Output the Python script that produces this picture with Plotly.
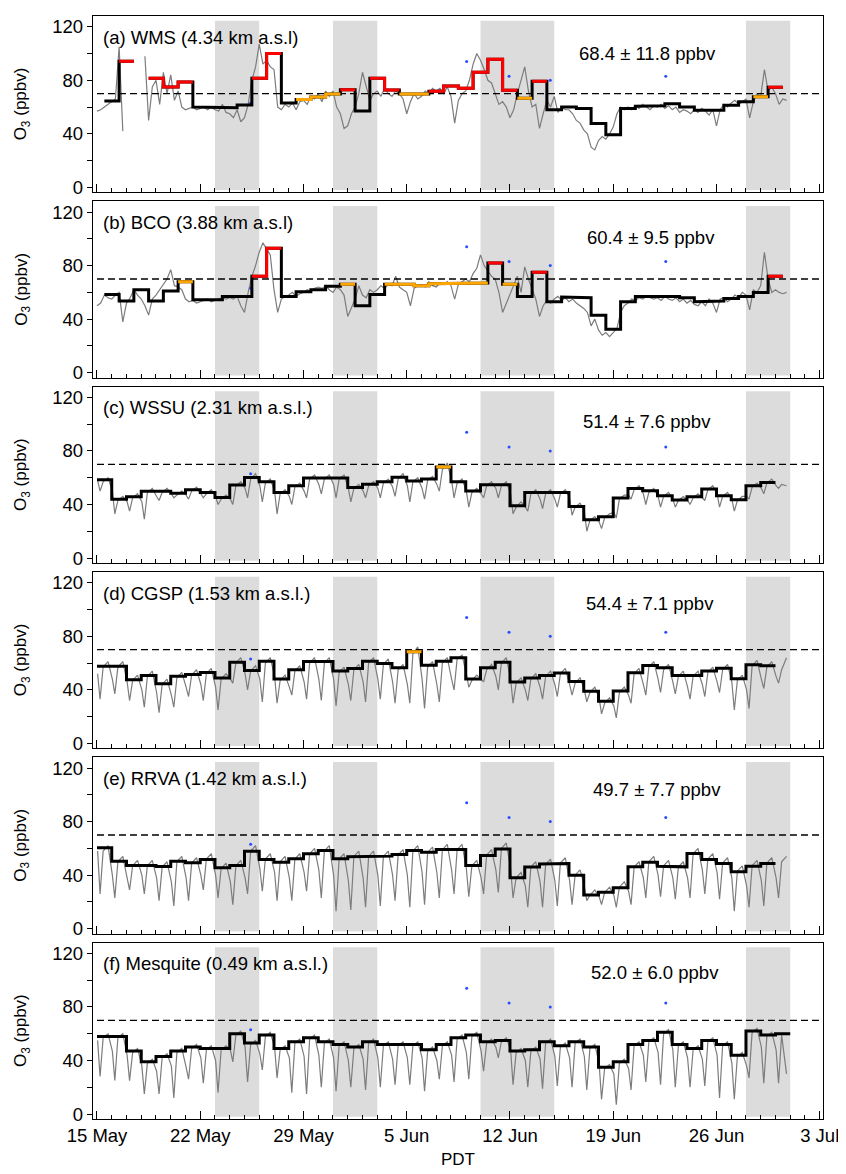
import pandas as pd
import plotly.graph_objects as go
from plotly.subplots import make_subplots

# ------------------------------------------------------------------
# DATA
# ------------------------------------------------------------------
SITES = [
    "(a) WMS (4.34 km a.s.l)",
    "(b) BCO (3.88 km a.s.l)",
    "(c) WSSU (2.31 km a.s.l.)",
    "(d) CGSP (1.53 km a.s.l.)",
    "(e) RRVA (1.42 km a.s.l.)",
    "(f) Mesquite (0.49 km a.s.l.)",
]
STATS = [
    "68.4 ± 11.8 ppbv",
    "60.4 ± 9.5 ppbv",
    "51.4 ± 7.6 ppbv",
    "54.4 ± 7.1 ppbv",
    "49.7 ± 7.7 ppbv",
    "52.0 ± 6.0 ppbv",
]

# O3 samples, four per day from 15 May (one row per day);
# sampling hours of each row (PDT) for each site
O3_START = "2017-05-15"
HOURS_MOUNTAIN = [0, 6, 12, 18]
HOURS_DIURNAL = [1, 5, 10, 18]

o3_wms = [
    57, 58, 60, 62,
    64, 66, 105, 42,
    None, None, None, None,
    None, 98, 50, 75,
    80, 62, 86, 70,
    84, 65, 72, 60,
    58, 59, 60, 58,
    59, 60, 58, 60,
    58, 57, 62, 56,
    55, 52, 58, 49,
    52, 62, 80, 90,
    107, 92, 95, 90,
    88, 60, 58, 62,
    60, 63, 58, 64,
    65, 62, 68, 66,
    70, 64, 72, 68,
    72, 60, 55, 44,
    46, 55, 60, 70,
    86, 75, 65, 70,
    72, 68, 74, 70,
    68, 72, 70, 66,
    55, 64, 70, 66,
    68, 72, 70, 74,
    72, 74, 70, 75,
    68, 48, 65, 70,
    72, 80, 92, 100,
    95, 88, 80, 78,
    70, 62, 64, 60,
    52, 58, 70, 80,
    90, 72, 60, 62,
    44, 55, 65, 60,
    68, 56, 60, 58,
    58, 55, 50, 48,
    43, 40, 30, 28,
    35, 38, 36, 40,
    45, 55, 60, 58,
    60, 58, 61, 59,
    62, 60, 58, 61,
    60, 62, 59, 61,
    58, 60, 56, 58,
    57, 55, 58, 56,
    59, 57, 54, 58,
    46, 58, 62, 60,
    63, 65, 62, 64,
    66, 52, 64, 70,
    68, 88, 72, 75,
    70, 62, 66, 65,
]

o3_bco = [
    50, 52, 58, 56,
    55, 58, 60, 38,
    52, 56, 62, 58,
    55, 50, 43, 55,
    58, 62, 66, 70,
    77, 65, 64, 62,
    55, 53, 54, 52,
    53, 54, 55, 53,
    54, 55, 56, 55,
    56, 55, 57, 50,
    45, 60, 72, 80,
    90, 97, 92, 88,
    62, 45, 55, 57,
    58, 60, 57, 59,
    60, 62, 61, 63,
    64, 63, 65, 62,
    60, 64, 62, 58,
    42, 48, 55, 65,
    58, 56, 62, 60,
    62, 65, 63, 66,
    65, 72, 64, 62,
    60, 50, 63, 65,
    66, 64, 68, 65,
    64, 67, 66, 68,
    65, 55, 66, 68,
    70, 68, 74, 78,
    88, 80, 76, 72,
    70, 60, 45, 52,
    58, 65, 72, 60,
    79, 70, 62, 55,
    42, 50, 54, 52,
    55, 57, 54, 56,
    53, 55, 52, 50,
    48, 45, 35, 40,
    32, 28, 30, 27,
    30, 33, 45, 50,
    52, 55, 54, 56,
    55, 57, 56, 55,
    56, 54, 57, 55,
    54, 56, 53, 55,
    52, 54, 51, 50,
    53, 50, 55, 52,
    45, 55, 56, 53,
    55, 58, 56, 60,
    58, 47, 62, 60,
    65, 90, 70, 60,
    62, 60, 59, 60,
]

o3_wssu = [
    58, 50, 57, 60,
    50, 33, 43, 46,
    42, 35, 45, 48,
    42, 29, 49, 52,
    46, 43, 49, 52,
    48, 45, 47, 50,
    47, 44, 50, 53,
    48, 45, 48, 51,
    46, 40, 44, 47,
    44, 40, 54, 57,
    52, 45, 59, 63,
    54, 42, 56, 59,
    50, 33, 48, 51,
    46, 40, 53, 56,
    50, 45, 59, 62,
    55, 48, 59, 62,
    55, 45, 59, 62,
    52, 42, 52, 55,
    50, 45, 54, 57,
    52, 45, 56, 59,
    53, 46, 59, 63,
    54, 42, 57, 60,
    52, 44, 58, 61,
    55, 50, 66, 71,
    58, 45, 56, 59,
    50, 38, 49, 52,
    48, 45, 54, 57,
    52, 45, 54, 57,
    48, 33, 38, 42,
    38, 35, 48, 51,
    44, 37, 48, 51,
    44, 38, 48, 51,
    45, 32, 38, 41,
    35, 20, 28, 31,
    27, 22, 30, 33,
    34, 30, 44, 47,
    47, 44, 51, 54,
    48, 40, 49, 52,
    46, 38, 46, 49,
    44, 38, 43, 46,
    43, 40, 45, 48,
    45, 43, 51, 54,
    48, 38, 46, 49,
    44, 35, 43, 46,
    46, 44, 53, 56,
    52, 48, 56, 59,
    54, 52, 55, 54,
]

o3_cgsp = [
    52, 33, 57, 61,
    48, 37, 57, 61,
    46, 32, 47, 51,
    40, 27, 50, 54,
    38, 23, 44, 48,
    36, 27, 49, 53,
    42, 35, 51, 55,
    44, 32, 52, 56,
    42, 25, 48, 52,
    48, 45, 60, 64,
    52, 40, 54, 58,
    48, 31, 60, 64,
    50, 30, 47, 51,
    42, 36, 54, 58,
    46, 33, 60, 64,
    48, 32, 60, 64,
    48, 28, 53, 57,
    44, 32, 55, 59,
    46, 31, 60, 64,
    48, 33, 59, 63,
    46, 30, 55, 59,
    44, 30, 67, 72,
    48, 26, 57, 61,
    44, 31, 60, 64,
    48, 40, 63, 66,
    52, 42, 47, 51,
    48, 46, 55, 59,
    50, 40, 60, 64,
    48, 30, 45, 49,
    40, 32, 48, 52,
    42, 33, 50, 54,
    44, 35, 52, 56,
    44, 36, 45, 49,
    40, 31, 38, 42,
    34, 22, 30, 34,
    28, 19, 38, 42,
    36, 30, 52, 56,
    44, 36, 57, 61,
    48, 38, 55, 59,
    46, 37, 50, 54,
    42, 33, 50, 54,
    44, 35, 53, 57,
    46, 38, 55, 59,
    46, 25, 47, 51,
    40, 26, 58, 62,
    48, 41, 57, 61,
    50, 45, 55, 64,
]

o3_rrva = [
    58, 26, 58, 62,
    40, 23, 50, 54,
    38, 29, 47, 51,
    40, 26, 47, 51,
    38, 21, 46, 50,
    35, 17, 50, 54,
    38, 21, 49, 53,
    40, 29, 52, 56,
    40, 23, 45, 49,
    35, 18, 47, 51,
    38, 26, 58, 62,
    45, 28, 52, 56,
    42, 21, 50, 54,
    38, 21, 52, 56,
    42, 28, 56, 60,
    44, 23, 58, 62,
    40, 13, 52, 56,
    36, 14, 54, 58,
    38, 16, 54, 58,
    40, 17, 54, 58,
    40, 21, 55, 59,
    40, 16, 58, 62,
    42, 18, 57, 61,
    42, 23, 59, 63,
    44, 26, 59, 63,
    45, 24, 47, 51,
    38, 26, 55, 59,
    44, 27, 60, 64,
    45, 23, 38, 42,
    32, 16, 46, 50,
    35, 16, 48, 52,
    36, 17, 49, 53,
    36, 18, 40, 44,
    32, 21, 25, 29,
    24, 18, 27, 31,
    25, 16, 31, 35,
    28, 18, 46, 50,
    38, 23, 50, 54,
    40, 24, 47, 51,
    38, 22, 46, 50,
    38, 23, 56, 60,
    44, 26, 52, 56,
    42, 22, 49, 53,
    38, 13, 43, 47,
    32, 16, 47, 51,
    36, 17, 49, 53,
    38, 23, 50, 54,
]

o3_mesq = [
    55, 28, 57, 60,
    47, 25, 57, 60,
    44, 25, 46, 49,
    36, 15, 38, 41,
    32, 15, 42, 45,
    36, 12, 46, 49,
    35, 26, 49, 52,
    42, 23, 48, 51,
    40, 16, 48, 51,
    48, 39, 59, 62,
    50, 24, 52, 55,
    45, 33, 58, 61,
    50, 27, 48, 51,
    42, 16, 53, 56,
    43, 15, 56, 59,
    44, 20, 53, 56,
    42, 17, 51, 54,
    40, 20, 49, 52,
    41, 18, 53, 56,
    42, 20, 51, 54,
    41, 22, 51, 54,
    42, 22, 51, 54,
    42, 17, 47, 50,
    40, 26, 51, 54,
    44, 24, 56, 59,
    46, 26, 58, 61,
    47, 32, 53, 56,
    50, 42, 54, 57,
    48, 22, 46, 49,
    40, 20, 47, 50,
    41, 19, 53, 56,
    43, 21, 50, 53,
    42, 20, 53, 56,
    43, 18, 49, 52,
    38, 11, 34, 37,
    30, 7, 38, 41,
    34, 18, 51, 54,
    44, 24, 54, 57,
    46, 22, 60, 63,
    48, 20, 51, 54,
    42, 20, 48, 51,
    41, 21, 54, 57,
    44, 12, 51, 54,
    38, 11, 43, 46,
    36, 27, 61, 64,
    50, 23, 58, 61,
    48, 23, 59, 30,
]

# daily MDA8 steps (ppbv); first step starts at MDA8_START
MDA8_START = [
    "2017-05-15 12:00", "2017-05-15 12:00", "2017-05-15 00:00",
    "2017-05-15 00:00", "2017-05-15 00:00", "2017-05-15 00:00",
]
mda8_wms = [64.6, 94.2, None, 81.5, 75, 78.8, 60, 60, 59.5, 61.5,
            81.5, 100, 63, 65.6, 67.5, 69.8, 73, 57, 81.5, 72.8,
            69.8, 69.8, 71.8, 75.8, 74, 86, 95.7, 72.5, 66.6, 79.3,
            58, 60, 59, 47.7, 39.3, 59, 60.6, 61, 62.4, 60,
            57.6, 57.6, 61.4, 64, 67.6, 74.8]
mda8_bco = [58.5, 53.5, 62, 53.5, 61, 68, 54.5, 54.5, 57, 57,
            72, 93, 57, 60.5, 62, 64.5, 66, 50, 58.5, 66,
            66, 65, 66.5, 67, 67, 67, 82, 66, 57, 75,
            53, 56.5, 56, 43, 32.5, 53, 57, 57, 57, 56,
            53, 53.5, 55.5, 57, 60, 72]
mda8_wssu = [58.5, 44, 45.8, 49.8, 49.8, 48.3, 51, 49, 45.3, 54.5,
             60.2, 57, 49, 54, 59.7, 59.7, 59.7, 52.7, 55.2, 57,
             60.4, 57.5, 59, 68, 57, 50, 54.7, 54.7, 39, 49,
             49, 49, 38.5, 28.6, 30.8, 44.8, 52, 50.2, 46.5, 43.3,
             45.8, 51.5, 46.5, 43.5, 54, 56.5]
mda8_cgsp = [57.7, 57.7, 47.5, 50.7, 44.6, 50.2, 51.5, 53, 48.8, 60.6,
             54.5, 61.4, 48, 55, 61.1, 61.1, 54, 56, 61.4, 59.7,
             56.4, 68.5, 58.4, 61.4, 63.9, 48, 56.4, 60.6, 45.8, 48.8,
             50.7, 52.5, 46.3, 38.9, 31.4, 39.1, 52.7, 58.2, 56.4, 50.7,
             50.7, 54, 56.2, 48.3, 58.7, 57.9]
mda8_rrva = [60.4, 50.4, 47.2, 47.2, 46.5, 50.4, 49.2, 51.7, 45.5, 47.2,
             57.9, 51.7, 49.7, 52.2, 55.9, 58.4, 52.2, 53.7, 53.7, 54.2,
             55.4, 58.4, 57.1, 59.1, 59.1, 47.2, 54.7, 59.6, 38, 46,
             48.4, 48.7, 40, 25.1, 27.3, 30.6, 46.2, 49.7, 46.7, 46.2,
             56.1, 51.7, 48.7, 42.5, 46.7, 48.7]
mda8_mesq = [58, 58, 47, 39, 43, 47, 50, 49, 49, 60,
             53, 59, 49, 54, 57, 54, 52, 50, 54, 52,
             52, 52, 48, 52, 57, 59, 54, 55, 47, 48,
             54, 51, 54, 50, 35, 39, 52, 55, 61, 52,
             49, 55, 52, 44, 62, 59, 60]

O3_SAMPLES = [o3_wms, o3_bco, o3_wssu, o3_cgsp, o3_rrva, o3_mesq]
O3_HOURS = [HOURS_MOUNTAIN, HOURS_MOUNTAIN, HOURS_DIURNAL,
            HOURS_DIURNAL, HOURS_DIURNAL, HOURS_DIURNAL]
MDA8 = [mda8_wms, mda8_bco, mda8_wssu, mda8_cgsp, mda8_rrva, mda8_mesq]

# shaded event periods
EVENT_START = ["2017-05-23", "2017-05-31", "2017-06-10", "2017-06-28"]
EVENT_END = ["2017-05-26", "2017-06-03", "2017-06-15", "2017-07-01"]

# small blue markers
SONDE_TIME = ["2017-05-25 10:00", "2017-06-09 01:30", "2017-06-11 22:30",
              "2017-06-14 17:30", "2017-06-22 13:30"]
SONDE_O3 = [63, 94, 83, 80, 83]

NAAQS = 70
NAAQS_SPAN = ["2017-05-15", "2017-07-03"]

# ------------------------------------------------------------------
# STYLE
# ------------------------------------------------------------------
FONT = "Liberation Sans, Arial, Helvetica, sans-serif"
STAT_POS = [(0.759, 0.79), (0.765, 0.793), (0.759, 0.80),
            (0.763, 0.82), (0.773, 0.82), (0.770, 0.833)]


def level(v):
    if v is None:
        return None
    if v > 70:
        return "red"
    if v >= 65:
        return "orange"
    return "black"


def sample_times(vals, hours):
    days = pd.date_range(O3_START, periods=len(vals) // len(hours), freq="D")
    t = [d + pd.Timedelta(hours=h) for d in days for h in hours]
    return [x.strftime("%Y-%m-%d %H:%M") for x in t]


def step_black(start, vals):
    edges = pd.date_range(start, periods=len(vals) + 1, freq="D").strftime("%Y-%m-%d %H:%M")
    xs, ys = [], []
    for i, v in enumerate(vals):
        if v is None:
            xs.append(None)
            ys.append(None)
            continue
        xs += [edges[i], edges[i + 1]]
        ys += [v, v]
    return xs, ys


def step_cat(start, vals, cat):
    edges = pd.date_range(start, periods=len(vals) + 1, freq="D").strftime("%Y-%m-%d %H:%M")
    xs, ys = [], []
    for i, v in enumerate(vals):
        if level(v) != cat:
            continue
        xs += [edges[i], edges[i + 1]]
        ys += [v, v]
        if i + 1 >= len(vals) or level(vals[i + 1]) != cat:
            xs.append(None)
            ys.append(None)
    return xs, ys


fig = make_subplots(rows=6, cols=1, shared_xaxes=True, vertical_spacing=9 / 1104)

for k in range(6):
    row = k + 1
    n = "" if k == 0 else str(k + 1)
    o3 = O3_SAMPLES[k]
    t = sample_times(o3, O3_HOURS[k])

    for s, e in zip(EVENT_START, EVENT_END):
        fig.add_shape(type="rect", xref="x" + n, yref="y" + n,
                      x0=s, x1=e, y0=-2, y1=124.5,
                      fillcolor="#dcdcdc", line_width=0, layer="below")

    fig.add_trace(go.Scatter(x=t, y=o3, mode="lines",
                             line=dict(color="#7c7c7c", width=1.2),
                             connectgaps=False), row=row, col=1)
    fig.add_trace(go.Scatter(x=NAAQS_SPAN, y=[NAAQS, NAAQS], mode="lines",
                             line=dict(color="black", width=1.3, dash="7px,4px")),
                  row=row, col=1)
    fig.add_trace(go.Scatter(x=SONDE_TIME, y=SONDE_O3, mode="markers",
                             marker=dict(color="#2a4dff", size=3)),
                  row=row, col=1)

    bx, by = step_black(MDA8_START[k], MDA8[k])
    fig.add_trace(go.Scatter(x=bx, y=by, mode="lines",
                             line=dict(color="black", width=3)), row=row, col=1)
    for cat, col in [("orange", "#ffa500"), ("red", "#ff0000")]:
        cx, cy = step_cat(MDA8_START[k], MDA8[k], cat)
        if cx:
            fig.add_trace(go.Scatter(x=cx, y=cy, mode="lines",
                                     line=dict(color=col, width=3)), row=row, col=1)

    fig.add_annotation(text=SITES[k], xref="x" + n + " domain", yref="y" + n + " domain",
                       x=0.011, y=0.88, xanchor="left", yanchor="middle",
                       showarrow=False, font=dict(size=18.5))
    sx, sy = STAT_POS[k]
    fig.add_annotation(text=STATS[k], xref="x" + n + " domain", yref="y" + n + " domain",
                       x=sx, y=sy, xanchor="center", yanchor="middle",
                       showarrow=False, font=dict(size=18.5))
    fig.add_annotation(text="O<sub>3</sub> (ppbv)", xref="paper", yref="y" + n + " domain",
                       x=-0.097, y=0.5, xanchor="center", yanchor="middle",
                       textangle=-90, showarrow=False, font=dict(size=17))

fig.update_xaxes(
    type="date",
    range=["2017-05-14 17:30", "2017-07-03 05:20"],
    showline=True, mirror=True, linecolor="black", linewidth=1.3,
    showgrid=False, zeroline=False,
    ticks="inside", ticklen=8, tickwidth=1.2, tickcolor="black",
    tick0="2017-05-15", dtick=7 * 86400000, tickformat="%-d %b",
    minor=dict(ticks="inside", ticklen=4, tickwidth=1.1, tickcolor="black",
               tick0="2017-05-15", dtick=86400000, showgrid=False),
    tickfont=dict(size=18.5),
)
fig.update_xaxes(showticklabels=True, row=6, col=1)

fig.update_yaxes(
    range=[-3.7, 128],
    showline=True, mirror=True, linecolor="black", linewidth=1.3,
    showgrid=False, zeroline=False,
    tickvals=[0, 40, 80, 120], ticks="outside", ticklen=5, tickwidth=1.2,
    tickcolor="black",
    minor=dict(tickvals=[20, 60, 100], ticks="outside", ticklen=5,
               tickwidth=1.2, tickcolor="black", showgrid=False),
    tickfont=dict(size=18.5),
)

fig.add_annotation(text="PDT", xref="paper", yref="paper", x=0.5, y=-0.037,
                   xanchor="center", yanchor="middle", showarrow=False,
                   font=dict(size=17))

# the page body adds an 8 px offset, so the figure is sized to fit after it
fig.update_layout(
    width=838, height=1166,
    margin=dict(l=85, r=17, t=7, b=55),
    paper_bgcolor="white", plot_bgcolor="white",
    showlegend=False,
    font=dict(family=FONT, color="black", size=17),
)

fig.write_html("out.html")
